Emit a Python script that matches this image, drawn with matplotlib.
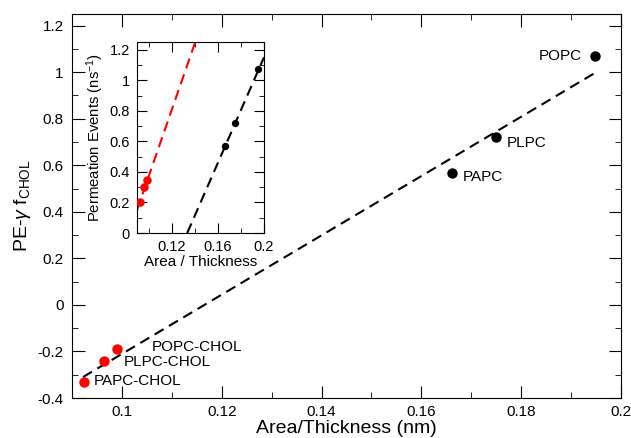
import matplotlib
matplotlib.use("Agg")
import matplotlib.pyplot as plt
import numpy as np
from matplotlib.ticker import MultipleLocator

plt.rcParams["font.family"] = ["Liberation Sans", "DejaVu Sans"]
plt.rcParams["mathtext.fontset"] = "custom"
plt.rcParams["mathtext.rm"] = "Liberation Sans"
plt.rcParams["mathtext.it"] = "Liberation Sans:italic"

# main panel: pure lipids (black) and lipid + cholesterol (red)
pure_names = ["PAPC", "PLPC", "POPC"]
pure_x = [0.1662, 0.1750, 0.1948]
pure_y = [0.565, 0.72, 1.07]

chol_names = ["PAPC-CHOL", "PLPC-CHOL", "POPC-CHOL"]
chol_x = [0.0924, 0.0964, 0.0990]
chol_y = [-0.33, -0.24, -0.19]

# linear fit across all bilayers
main_fit = (12.74, -1.4846)
main_fit_range = (0.0922, 0.195)

# inset: permeation events (ns^-1)
ins_pure_y = [0.57, 0.72, 1.075]
ins_chol_y = [0.20, 0.30, 0.35]
ins_pure_fit = (17.3, -2.3096)
ins_pure_range = (0.1335, 0.2)
ins_chol_fit = (21.8, -1.812)
ins_chol_range = (0.09, 0.1404)

# label offsets in data units (dx, dy)
pure_label_pos = [(0.002, -0.017), (0.0022, -0.026), (-0.0026, 0.0)]
chol_label_pos = [(0.002, 0.003), (0.004, -0.005), (0.007, 0.01)]

fig = plt.figure(figsize=(6.31, 4.38), dpi=100)
ax = fig.add_axes([0.1141, 0.0913, 0.8701, 0.8767])

xs = np.linspace(*main_fit_range, 50)
ax.plot(xs, main_fit[0] * xs + main_fit[1], color="black", lw=1.5, dashes=(5, 3))
ax.scatter(pure_x, pure_y, s=42, color="black", zorder=3)
ax.scatter(chol_x, chol_y, s=42, color="red", zorder=3)

for name, x, y, (dx, dy) in zip(pure_names, pure_x, pure_y, pure_label_pos):
    ax.text(x + dx, y + dy, name, fontsize=11, va="center",
            ha="right" if dx < 0 else "left")
for name, x, y, (dx, dy) in zip(chol_names, chol_x, chol_y, chol_label_pos):
    ax.text(x + dx, y + dy, name, fontsize=11, va="center", ha="left")

ax.set_xlim(0.09, 0.2)
ax.set_ylim(-0.4, 1.25)
ax.xaxis.set_major_locator(MultipleLocator(0.02))
ax.xaxis.set_minor_locator(MultipleLocator(0.01))
ax.yaxis.set_major_locator(MultipleLocator(0.2))
ax.yaxis.set_minor_locator(MultipleLocator(0.1))
ax.xaxis.set_major_formatter(lambda v, p: f"{v:g}")
ax.yaxis.set_major_formatter(lambda v, p: "0" if abs(v) < 1e-9 else f"{v:g}")
ax.tick_params(which="both", direction="in", top=True, right=True, labelsize=11)
ax.tick_params(which="major", length=9)
ax.tick_params(which="minor", length=4.5)
ax.tick_params(axis="y", pad=6)
ax.tick_params(axis="x", pad=5)
ax.set_xlabel("Area/Thickness (nm)", fontsize=14, labelpad=1)
ax.set_ylabel(r"PE-$\gamma$ f$_{\mathrm{CHOL}}$", fontsize=14, labelpad=3)

# inset
axi = fig.add_axes([0.2171, 0.468, 0.2013, 0.436])
xi = np.linspace(*ins_pure_range, 50)
axi.plot(xi, ins_pure_fit[0] * xi + ins_pure_fit[1], color="black", lw=1.5, dashes=(5, 3))
xr = np.linspace(*ins_chol_range, 50)
axi.plot(xr, ins_chol_fit[0] * xr + ins_chol_fit[1], color="red", lw=1.5, dashes=(5, 3))
axi.scatter(pure_x, ins_pure_y, s=18, color="black", zorder=3)
axi.scatter(chol_x, ins_chol_y, s=26, color="red", zorder=3)
axi.set_xlim(0.09, 0.2)
axi.set_ylim(0, 1.25)
axi.set_xticks([0.12, 0.16, 0.2])
axi.set_xticks([0.1, 0.14, 0.18], minor=True)
axi.yaxis.set_major_locator(MultipleLocator(0.2))
axi.yaxis.set_minor_locator(MultipleLocator(0.1))
axi.xaxis.set_major_formatter(lambda v, p: f"{v:g}")
axi.yaxis.set_major_formatter(lambda v, p: "0" if abs(v) < 1e-9 else f"{v:g}")
axi.tick_params(which="both", direction="in", top=True, right=True, labelsize=10.5, pad=5)
axi.tick_params(which="major", length=7)
axi.tick_params(which="minor", length=3.5)
axi.set_xlabel("Area / Thickness", fontsize=11, labelpad=1)
axi.set_ylabel(r"Permeation Events (ns$^{-1}$)", fontsize=10.7, labelpad=3)

fig.savefig("out.png", dpi=100)
